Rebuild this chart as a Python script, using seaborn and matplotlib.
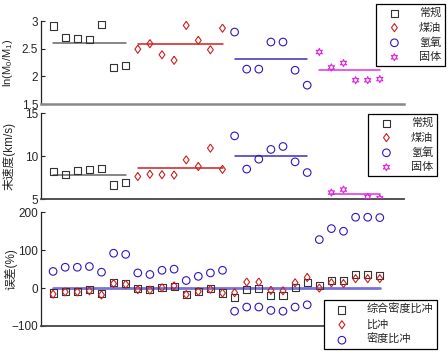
import numpy as np
import matplotlib
matplotlib.use("Agg")
import matplotlib.pyplot as plt
import seaborn as sns

# ---- data ----
groups = ["常规", "煤油", "氢氧", "固体"]
idx_changgui = [1, 2, 3, 4, 5, 6, 7]
idx_meiyou = [8, 9, 10, 11, 12, 13, 14, 15]
idx_qingyang = [16, 17, 18, 19, 20, 21, 22]
idx_guti = [23, 24, 25, 26, 27, 28]

lnm_changgui = [2.91, 2.70, 2.68, 2.67, 2.93, 2.16, 2.20]
lnm_meiyou = [2.49, 2.59, 2.39, 2.29, 2.92, 2.65, 2.48, 2.87]
lnm_qingyang = [2.80, 2.13, 2.13, 2.62, 2.62, 2.11, 1.84]
lnm_guti = [2.44, 2.16, 2.24, 1.93, 1.93, 1.95]

vel_changgui = [8.17, 7.83, 8.37, 8.49, 8.57, 6.66, 6.94]
vel_meiyou = [7.64, 7.90, 7.85, 7.81, 9.57, 8.80, 10.93, 8.47]
vel_qingyang = [12.35, 8.50, 9.65, 10.78, 11.12, 9.34, 8.10]
vel_guti = [np.nan, 5.78, 6.13, np.nan, 5.27, 5.12]

err_idx = list(range(1, 29))
err_labels = ["综合密度比冲", "比冲", "密度比冲"]
err_zonghe = [-13, -8, -8, -4, -15, 14, 13, -2, -4, 1, 5, -17, -8, -2,
              -13, -24, -3, -2, -20, -19, 1, 14, 7, 20, 19, 36, 36, 34]
err_bichong = [-16, -10, -10, -7, -18, 12, 10, -4, -5, 1, 6, -17, -9, -3,
               -13, -12, 16, 16, -6, -7, 14, 28, 0, 14, 12, 25, 25, 25]
err_midu = [44, 55, 55, 57, 42, 92, 89, 40, 36, 47, 50, 20, 31, 40,
            47, -61, -50, -50, -59, -61, -50, -44, 128, 157, 150, 187, 187, 186]

# ---- style ----
sns.set_style("white")
plt.rcParams['font.family'] = ['Liberation Sans', 'Noto Sans CJK SC']
plt.rcParams['mathtext.default'] = 'regular'
plt.rcParams['font.size'] = 8

c_black = '#333333'
c_red = '#cc2020'
c_blue = '#3018c0'
c_mag = '#e020e0'
line_cols = ['#666666', '#cc2020', '#3a2cc0', '#e030e0']

diamond = [(0, 1), (0.72, 0), (0, -1), (-0.72, 0), (0, 1)]
hexagram = (6, 1, 0)

fig = plt.figure(figsize=(4.48, 3.57), dpi=100)
ax1 = fig.add_axes([41 / 448, 1 - 104 / 357, 363 / 448, 83 / 357])
ax2 = fig.add_axes([41 / 448, 1 - 199.3 / 357, 363 / 448, 86.3 / 357])
ax3 = fig.add_axes([41 / 448, 1 - 326 / 357, 363 / 448, 113.7 / 357])


def hollow(ax, x, y, marker, color, size, label):
    sns.scatterplot(x=x, y=y, marker=marker, s=size, color=color,
                    facecolor='none', edgecolor=color, linewidth=0.8,
                    ax=ax, label=label, zorder=3)


def mean_line(ax, x, y, color):
    x = np.asarray(x, dtype=float)
    y = np.asarray(y, dtype=float)
    ok = ~np.isnan(y)
    ax.plot([x[ok][0], x[ok][-1]], [y[ok].mean()] * 2, color=color, lw=1.1, zorder=2)


specs = [('s', c_black, 26), (diamond, c_red, 34), ('o', c_blue, 30), (hexagram, c_mag, 26)]


def panel(ax, series):
    for (x, y), (m, c, s), lc, g in zip(series, specs, line_cols, groups):
        hollow(ax, x, y, m, c, s, g)
        mean_line(ax, x, y, lc)


panel(ax1, [(idx_changgui, lnm_changgui), (idx_meiyou, lnm_meiyou),
            (idx_qingyang, lnm_qingyang), (idx_guti, lnm_guti)])
panel(ax2, [(idx_changgui, vel_changgui), (idx_meiyou, vel_meiyou),
            (idx_qingyang, vel_qingyang), (idx_guti, vel_guti)])

ax3.plot([err_idx[0], err_idx[-1]], [0, 0], color='#7a72d8', lw=2, zorder=1)
hollow(ax3, err_idx, err_zonghe, 's', c_black, 26, err_labels[0])
hollow(ax3, err_idx, err_bichong, diamond, c_red, 34, err_labels[1])
hollow(ax3, err_idx, err_midu, 'o', c_blue, 30, err_labels[2])

ax1.set_ylim(1.5, 3)
ax1.set_yticks([1.5, 2, 2.5, 3])
ax1.set_yticklabels(['1.5', '2', '2.5', '3'])
ax2.set_ylim(5, 15)
ax2.set_yticks([5, 10, 15])
ax3.set_ylim(-100, 200)
ax3.set_yticks([-100, 0, 100, 200])

ax1.set_ylabel(r'ln(M$_0$/M$_1$)', fontsize=8)
ax2.set_ylabel('末速度(km/s)', fontsize=8.5)
ax3.set_ylabel('误差(%)', fontsize=8.5)
ax1.yaxis.set_label_coords(-0.072, 0.5)
ax2.yaxis.set_label_coords(-0.070, 0.5)
ax3.yaxis.set_label_coords(-0.066, 0.5)

for ax in (ax1, ax2, ax3):
    ax.set_xlim(0, 30)
    ax.set_xticks([])
    ax.set_xlabel('')
    for side in ('top', 'right'):
        ax.spines[side].set_visible(False)
    ax.spines['left'].set_color('#222222')
    ax.spines['bottom'].set_color('#444444')
    ax.spines['left'].set_linewidth(0.9)
    ax.spines['bottom'].set_linewidth(1.3)
    ax.tick_params(axis='y', direction='in', length=3, width=0.8, pad=2,
                   labelsize=8.5, left=True)
    ax.patch.set_alpha(0)
ax1.spines['bottom'].set_color('#888888')
ax1.spines['bottom'].set_linewidth(1.8)

leg_kw = dict(frameon=True, fancybox=False, framealpha=1, edgecolor='black',
              fontsize=8, handlelength=2.6, handletextpad=0.9,
              labelspacing=0.4, borderpad=0.35, borderaxespad=0,
              loc='upper right', bbox_transform=fig.transFigure)
l1 = ax1.legend(bbox_to_anchor=(445 / 448, 1 - 4 / 357), **leg_kw)
l2 = ax2.legend(bbox_to_anchor=(437 / 448, 1 - 114 / 357), **leg_kw)
l3 = ax3.legend(bbox_to_anchor=(437 / 448, 1 - 300 / 357), **leg_kw)
for leg in (l1, l2, l3):
    leg.get_frame().set_linewidth(0.9)
    leg.set_zorder(5)

fig.savefig('out.png', dpi=100)
